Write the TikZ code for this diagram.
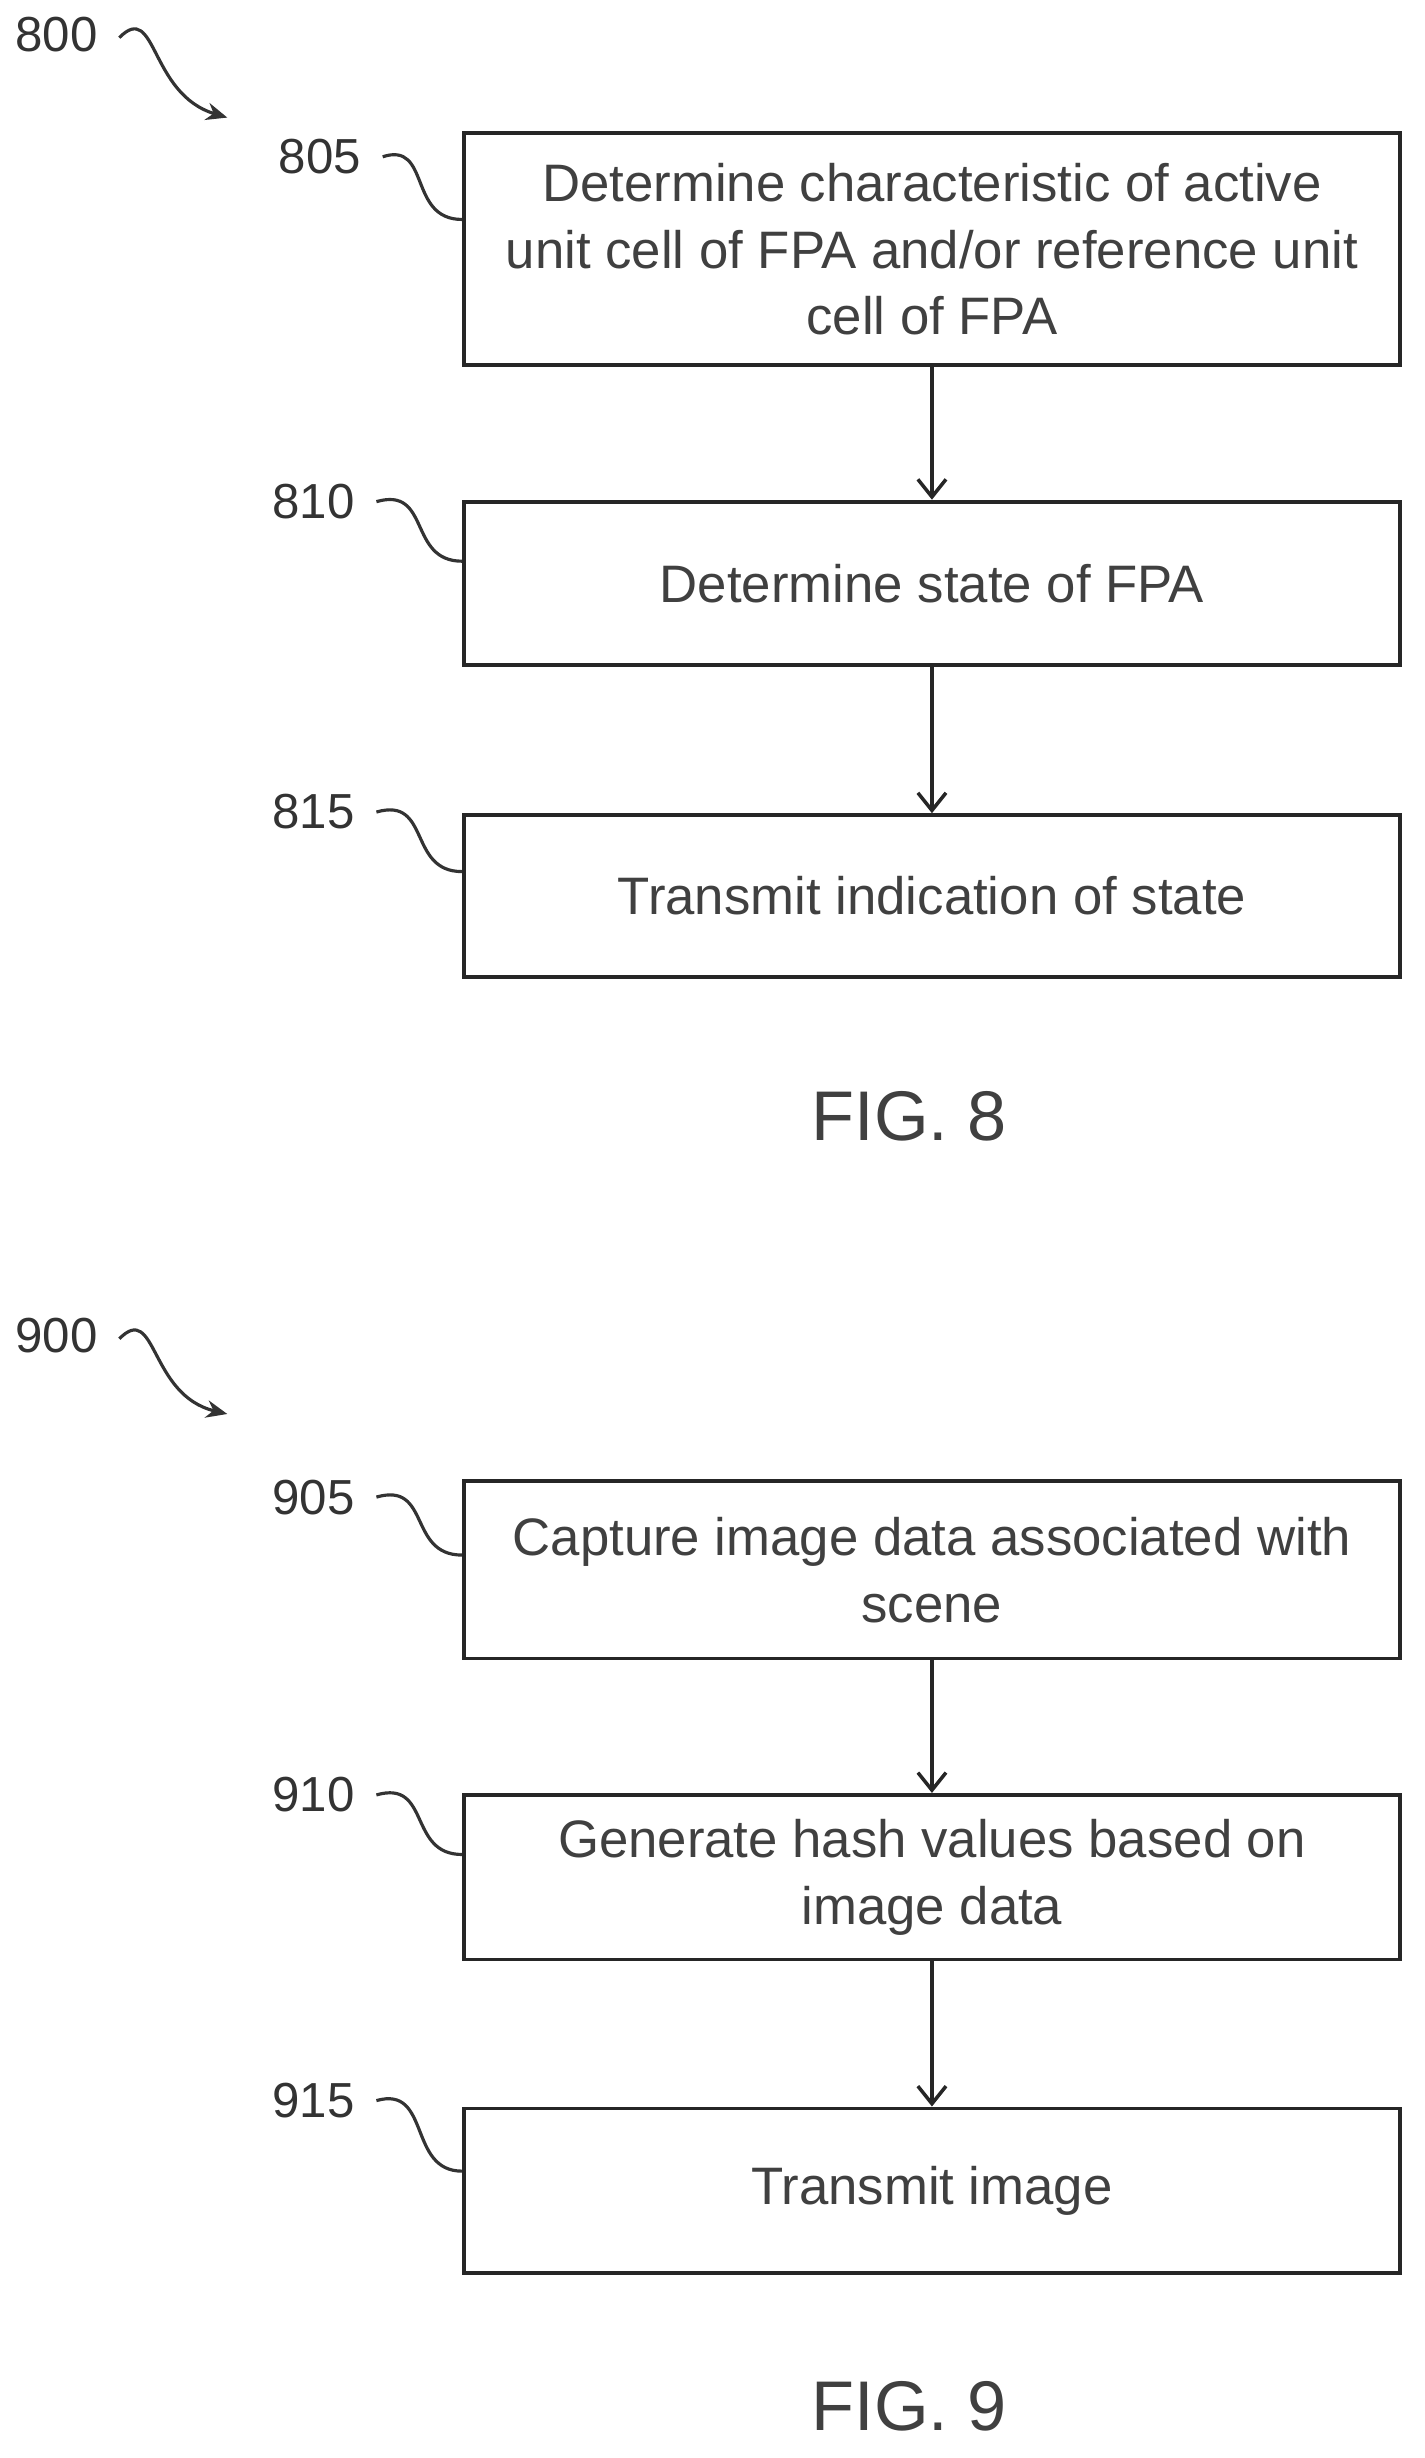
\documentclass[tikz,border=0pt]{standalone}
\usepackage{fontspec}
\setmainfont{Liberation Sans}
\usetikzlibrary{arrows.meta,positioning}
\tikzset{
  stepbox/.style={draw=black!85, line width=1.1pt, minimum width=597*0.01567cm,
    align=center, font=\fontsize{15pt}{19pt}\selectfont, text=black!75, inner sep=0pt},
  flow/.style={-{Straight Barb[length=5pt,width=8pt]}, line width=1pt, draw=black!85},
  refnum/.style={font=\fontsize{14pt}{16pt}\selectfont, text=black!80},
  lead/.style={line width=0.9pt, draw=black!80},
  fig/.style={font=\fontsize{20pt}{22pt}\selectfont, text=black!75}
}
\begin{document}
\begin{tikzpicture}[x=0.01567cm, y=-0.01567cm]
    \useasboundingbox (0,0) rectangle (909,1568);

    % figure 8
    \node[stepbox, minimum height=148*0.01567cm] (s805) at (594.5,159) {Determine characteristic of active\\unit cell of FPA and/or reference unit\\cell of FPA};
    \node[stepbox, minimum height=104*0.01567cm] (s810) at (594.5,372) {Determine state of FPA};
    \node[stepbox, minimum height=103*0.01567cm] (s815) at (594.5,571.5) {Transmit indication of state};
    \draw[flow] (s805) -- (s810);
    \draw[flow] (s810) -- (s815);
    \node[fig] (f8) at (580,712) {FIG. 8};

    \node[refnum] (n800) at (36,22) {800};
    \coordinate (a800) at (145,75);
    \draw[lead, -{Stealth[length=6pt,width=5pt]}] (n800.east) ++(6,2) .. controls (100,0) and (95,60) .. (a800);
    \node[refnum] (n805) at (204,100) {805};
    \draw[lead] (n805.east) ++(6,0) .. controls (275,90) and (260,140) .. (s805.west |- 0,140);
    \node[refnum] (n810) at (200,320) {810};
    \draw[lead] (n810.east) ++(6,0) .. controls (275,310) and (260,358) .. (s810.west |- 0,358);
    \node[refnum] (n815) at (200,518) {815};
    \draw[lead] (n815.east) ++(6,0) .. controls (275,508) and (260,556) .. (s815.west |- 0,556);

    % figure 9
    \node[stepbox, minimum height=113*0.01567cm] (s905) at (594.5,1001.5) {Capture image data associated with\\scene};
    \node[stepbox, minimum height=105*0.01567cm] (s910) at (594.5,1197.5) {Generate hash values based on\\image data};
    \node[stepbox, minimum height=105*0.01567cm] (s915) at (594.5,1397.5) {Transmit image};
    \draw[flow] (s905) -- (s910);
    \draw[flow] (s910) -- (s915);
    \node[fig] (f9) at (580,1535) {FIG. 9};

    \node[refnum] (n900) at (36,852) {900};
    \coordinate (a900) at (145,902);
    \draw[lead, -{Stealth[length=6pt,width=5pt]}] (n900.east) ++(6,2) .. controls (100,830) and (95,890) .. (a900);
    \node[refnum] (n905) at (200,955) {905};
    \draw[lead] (n905.east) ++(6,0) .. controls (275,945) and (260,992) .. (s905.west |- 0,992);
    \node[refnum] (n910) at (200,1145) {910};
    \draw[lead] (n910.east) ++(6,0) .. controls (275,1135) and (260,1183) .. (s910.west |- 0,1183);
    \node[refnum] (n915) at (200,1340) {915};
    \draw[lead] (n915.east) ++(6,0) .. controls (275,1330) and (260,1385) .. (s915.west |- 0,1385);
\end{tikzpicture}
\end{document}
